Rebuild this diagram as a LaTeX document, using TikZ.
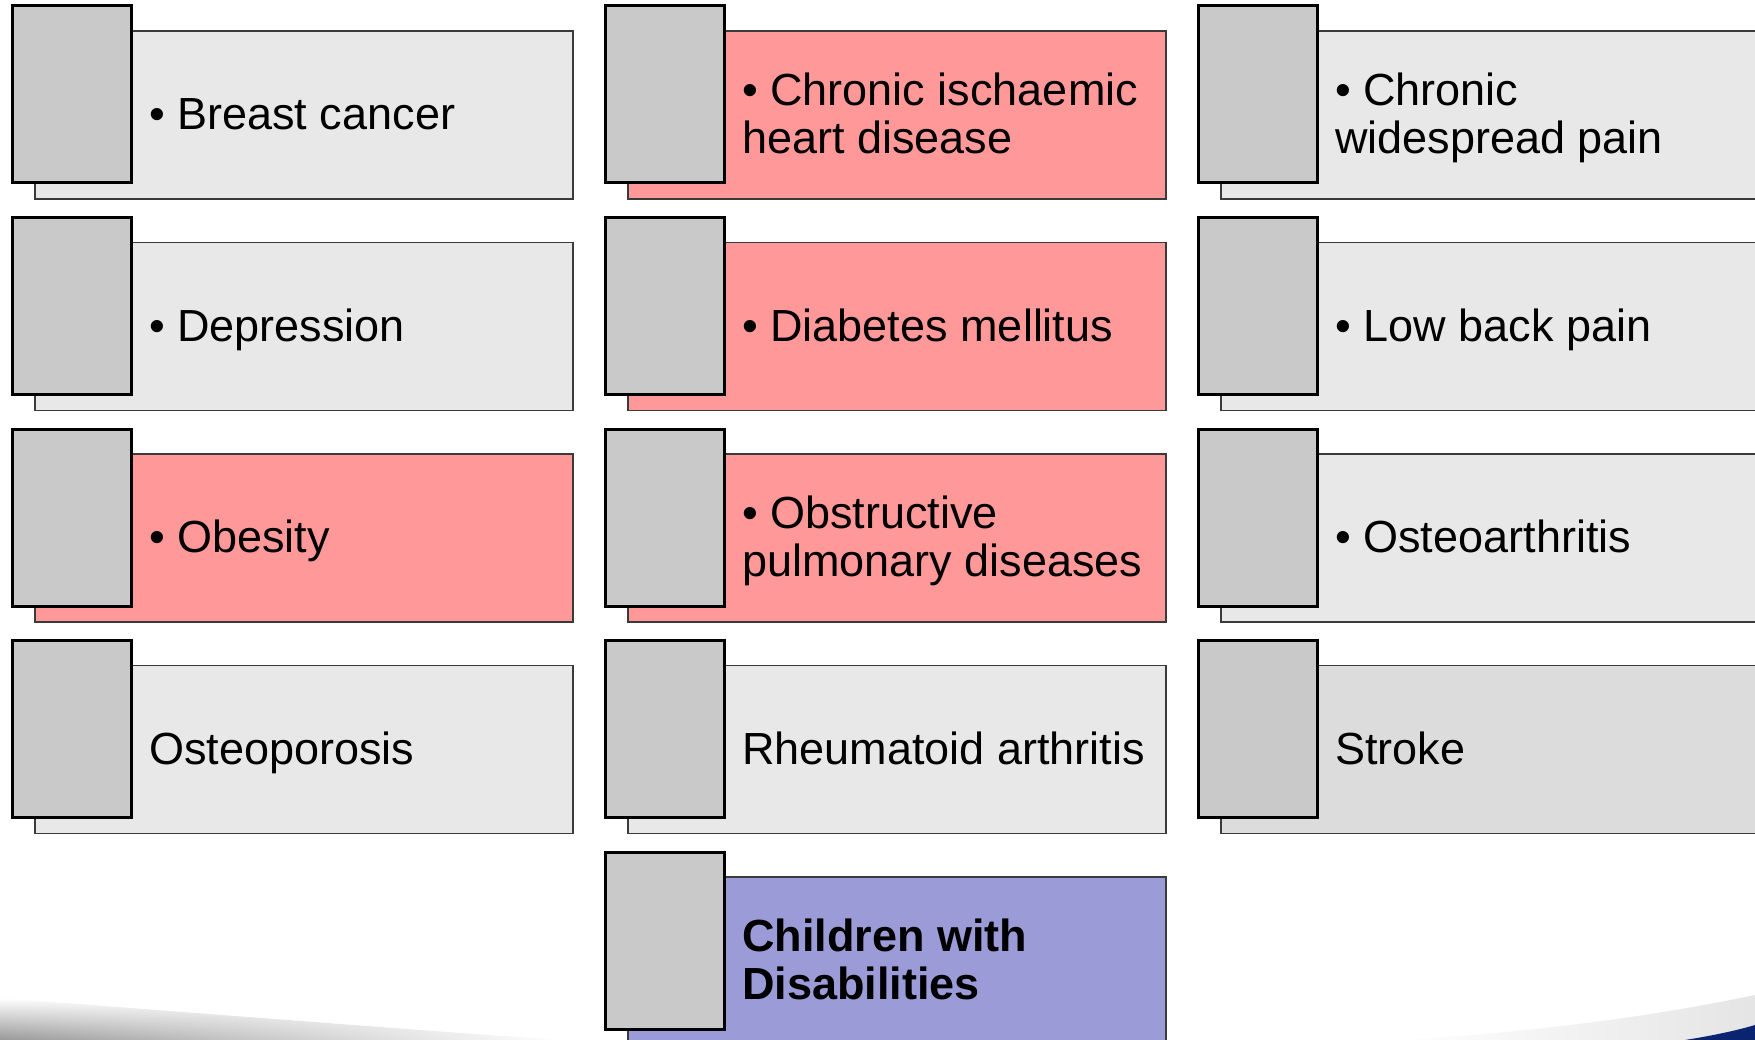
\documentclass[tikz,border=0pt]{standalone}
\usepackage{fontspec}
\setmainfont{Liberation Sans}
\usetikzlibrary{fadings}

\definecolor{tabgray}{HTML}{C9C9C9}
\definecolor{cardgray}{HTML}{E8E8E8}
\definecolor{cardgraydark}{HTML}{DCDCDC}
\definecolor{cardpink}{HTML}{FF9999}
\definecolor{cardlilac}{HTML}{9B9BD7}
\definecolor{cardedge}{HTML}{3A3A3A}
\definecolor{swooshblue}{HTML}{0A2470}

\tikzfading[name=fade to right, left color=transparent!0, right color=transparent!100]
\tikzfading[name=fade to left, left color=transparent!100, right color=transparent!0]

\tikzset{
  card/.style={draw=cardedge, line width=1.5pt, anchor=north west,
    minimum width=538pt, minimum height=168pt, inner sep=0pt, outer sep=0pt},
  tab/.style={draw=black, fill=tabgray, line width=3pt, anchor=north west,
    minimum width=119pt, minimum height=177pt, inner sep=0pt, outer sep=0pt},
  cardtext/.style={anchor=west, align=left, inner sep=0pt,
    font=\fontsize{45}{48}\selectfont,
    execute at begin node=\strut, execute at end node=\strut}
}

% #1 name, #2 left x, #3 top y, #4 fill colour, #5 label
\newcommand\diseasecard[5]{%
  \node[card, fill=#4] (#1-card) at (#2+23,#3+25) {};
  \node[tab] (#1-tab) at (#2,#3) {};
  \node[cardtext] (#1-text) at (#2+137,#3+114) {#5};
}

\begin{document}
\begin{tikzpicture}[x=1pt,y=-1pt]
  \useasboundingbox (0,0) rectangle (1755,1040);
  \clip (0,0) rectangle (1755,1040);
  \fill[white] (0,0) rectangle (1755,1040);

  % slide background swooshes along the bottom edge
  \shade[top color=white, bottom color=black!40, path fading=fade to right]
    (0,998) .. controls (160,1010) and (360,1026) .. (560,1040)
    -- (0,1040) -- cycle;
  \fill[black!10, path fading=fade to left]
    (1400,1040) .. controls (1540,1032) and (1660,1015) .. (1755,995)
    -- (1755,1040) -- cycle;
  \fill[swooshblue]
    (1685,1040) .. controls (1710,1036) and (1735,1031) .. (1755,1025)
    -- (1755,1040) -- cycle;

  % column 1
  \diseasecard{breast}{12}{6}{cardgray}{• Breast cancer}
  \diseasecard{depression}{12}{217.5}{cardgray}{• Depression}
  \diseasecard{obesity}{12}{429}{cardpink}{• Obesity}
  \diseasecard{osteoporosis}{12}{640.5}{cardgray}{Osteoporosis}

  % column 2
  \diseasecard{ischaemic}{605}{6}{cardpink}{• Chronic ischaemic\\heart disease}
  \diseasecard{diabetes}{605}{217.5}{cardpink}{• Diabetes mellitus}
  \diseasecard{pulmonary}{605}{429}{cardpink}{• Obstructive\\pulmonary diseases}
  \diseasecard{rheumatoid}{605}{640.5}{cardgray}{Rheumatoid arthritis}
  \diseasecard{children}{605}{852}{cardlilac}{\bfseries Children with\\\bfseries Disabilities}

  % column 3
  \diseasecard{widespread}{1198}{6}{cardgray}{• Chronic\\widespread pain}
  \diseasecard{backpain}{1198}{217.5}{cardgray}{• Low back pain}
  \diseasecard{osteoarthritis}{1198}{429}{cardgray}{• Osteoarthritis}
  \diseasecard{stroke}{1198}{640.5}{cardgraydark}{Stroke}
\end{tikzpicture}
\end{document}
